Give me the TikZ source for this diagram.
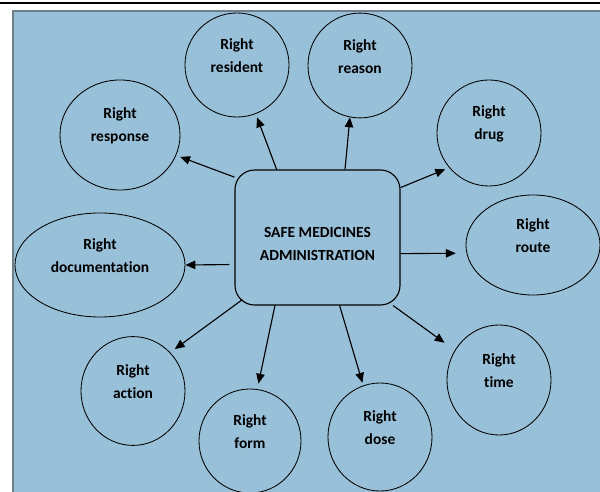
\documentclass[tikz,border=0pt]{standalone}
\usepackage{fontspec}
\setmainfont{Carlito}[Ligatures=NoCommon]
\usetikzlibrary{arrows.meta,shapes.geometric}
\definecolor{bgblue}{HTML}{99C0D9}
\definecolor{rahmen}{HTML}{6E7F8A}

\begin{document}
\begin{tikzpicture}[x=0.025cm, y=-0.025cm,
  ring/.style={draw, ellipse, line width=0.6pt, inner sep=0pt},
  lbl/.style={align=center, font=\bfseries\fontsize{11}{16.4}\selectfont},
  pfeil/.style={-{Triangle[length=7pt,width=6pt]}, line width=0.8pt}]

  \useasboundingbox (0,0) rectangle (600,492);
  \fill[white] (0,0) rectangle (600,492);
  \draw[line width=1.2pt] (0,3) -- (600,3);  %Linie oben
  \fill[bgblue] (13,11) rectangle (600,492);  %Hintergrund
  \draw[rahmen, line width=1.4pt] (13,492) -- (13,11) -- (600,11);  %Rahmen

  \node[draw, rounded corners=14pt, minimum width=4.125cm, minimum height=3.375cm,
        line width=0.8pt] (box) at (317.5,237.5) {};  %Mitte
  \node[lbl] (box-txt) at ([yshift=-4.3pt]box.center) {SAFE MEDICINES\\ADMINISTRATION};

  \foreach \nm/\x/\y/\w/\h in {resident/237/65/2.6/2.6,  %\x,\y Mittelpunkt
                               reason/360/65.5/2.6/2.62,
                               drug/489/133/2.6/2.65,
                               response/120/135/3.0/2.75,
                               documentation/100/265/4.25/2.6,
                               route/533/245/3.35/2.5,
                               time/499/380/2.6/2.75,
                               dose/380/437/2.6/2.7,
                               form/250/441/2.55/2.6,
                               action/133/391/2.6/2.72}
    {
     \node[ring, minimum width=\w cm, minimum height=\h cm] (\nm) at (\x,\y) {};  %Ellipse
     \node[lbl] (\nm-txt) at ([yshift=6.4pt]\nm.center) {Right\\\nm};  %Beschriftung
    };

  \foreach \s/\e/\a/\g in {121/resident/-69/2.6,  %\s Winkel am Kasten, \a Winkel an der Ellipse
                           68/reason/-101/0,
                           31/drug/221/3,
                           144/response/-20/3,
                           -11/route/187/7.6,
                           -42/time/146/9,
                           -72/dose/108/2,
                           238/form/82/4}
    \draw[pfeil, shorten >=\g pt] (box.\s) -- (\e.\a);
  \draw[pfeil, shorten <=3.5pt] (box.198) -- (documentation.0);
  \draw[pfeil, shorten >=4pt] ([shift={(8,-6)}]box.south west) -- (action.46);
\end{tikzpicture}
\end{document}
